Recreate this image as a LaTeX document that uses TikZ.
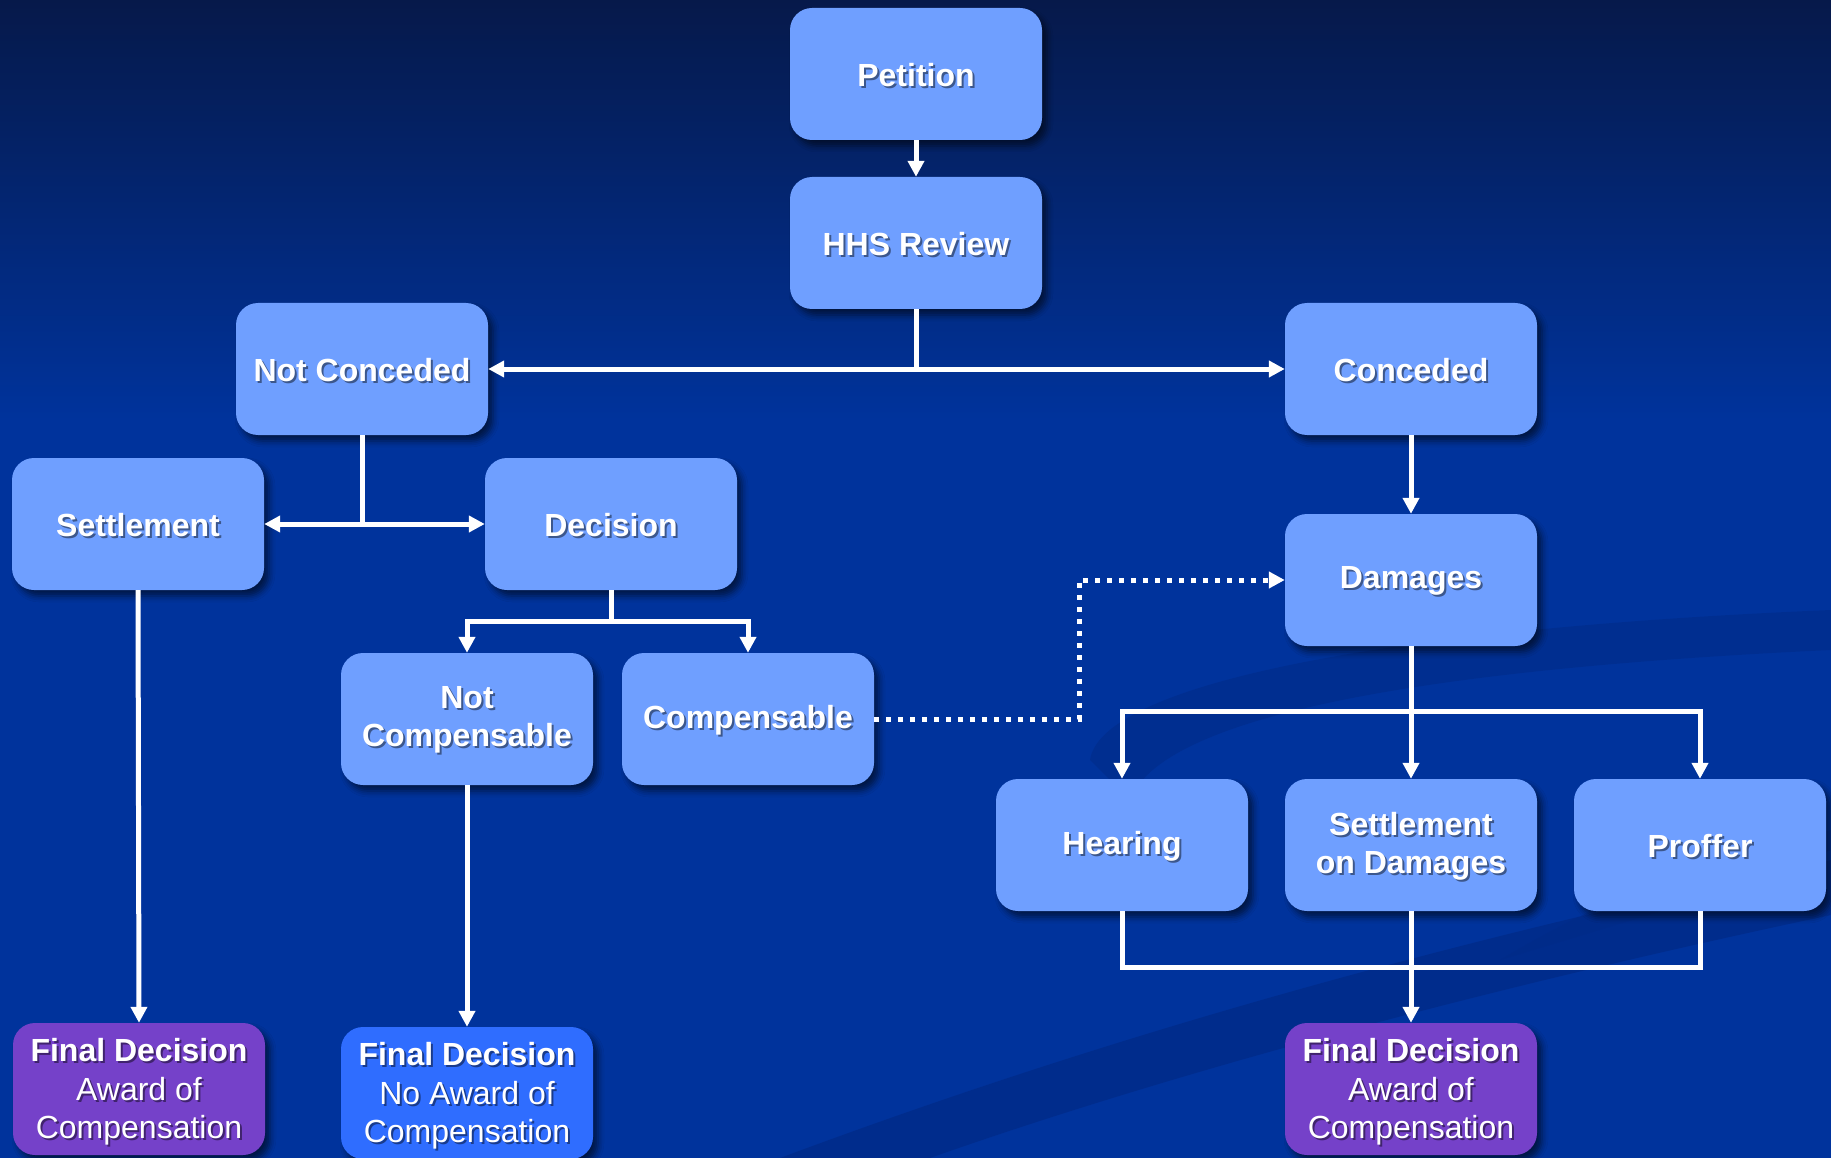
\documentclass[tikz,border=0pt]{standalone}
\usepackage{fontspec}
\setmainfont{Liberation Sans}
\usetikzlibrary{arrows.meta,shadows.blur}
\definecolor{boxblue}{HTML}{6F9FFF}
\definecolor{purp}{HTML}{7541C9}
\definecolor{fblue}{HTML}{2F6DFF}
\definecolor{bgtop}{HTML}{06194A}
\definecolor{bgmid}{HTML}{00339C}
\definecolor{swoosh}{HTML}{002A86}
\newcommand\mybox[6]{%
  \node[boxbase,#4] (#1) at (#2,#3) {};
  \node[txtsh,#5] (#1-sh) at ([xshift=2pt,yshift=-2pt]#1.center) {#6};
  \node[txt,#5] (#1-tx) at (#1.center) {#6};
}
\begin{document}
\begin{tikzpicture}[x=1pt,y=-1pt,
  boxbase/.style={rounded corners=22pt, minimum width=252pt, minimum height=132pt,
    inner sep=0pt, fill=boxblue,
    blur shadow={shadow xshift=5pt, shadow yshift=-6pt, shadow opacity=55, shadow blur radius=6pt}},
  purpbox/.style={fill=purp},
  bluebox/.style={fill=fblue},
  lbl/.style={font=\bfseries\fontsize{32}{38}\selectfont, yshift=-1pt},
  fin/.style={font=\fontsize{32}{38.5}\selectfont, yshift=-3pt},
  txt/.style={text=white, align=center, inner sep=0pt},
  txtsh/.style={text=black, text opacity=0.45, align=center, inner sep=0pt},
  ln/.style={draw=white, line width=5pt},
  arr/.style={ln, -{Triangle[width=16pt,length=16pt]}},
  dotln/.style={arr, dash pattern=on 5pt off 7pt}]
% background
\useasboundingbox (0,0) rectangle (1831,1158);
\fill[bgmid] (0,0) rectangle (1831,1158);
\shade[top color=bgtop, bottom color=bgmid] (0,0) rectangle (1831,420);
\fill[swoosh, opacity=0.7] (780,1158) .. controls (1150,1020) and (1500,930) .. (1831,860)
  -- (1831,915) .. controls (1500,985) and (1180,1070) .. (930,1158) -- cycle;
\fill[swoosh, opacity=0.5] (1090,760) .. controls (1100,690) and (1350,630) .. (1831,610)
  -- (1831,650) .. controls (1400,670) and (1160,720) .. (1130,800) -- cycle;
\fill[swoosh, opacity=0.4] (1500,960) .. controls (1700,900) and (1760,880) .. (1831,850)
  -- (1831,830) .. controls (1700,860) and (1600,900) .. (1500,960) -- cycle;

% boxes
\mybox{pet}{916}{74}{}{lbl}{Petition}
\mybox{hhs}{916}{243}{}{lbl}{HHS Review}
\mybox{notc}{362}{369}{}{lbl}{Not Conceded}
\mybox{conc}{1411}{369}{}{lbl}{Conceded}
\mybox{settle}{138}{524}{}{lbl}{Settlement}
\mybox{dec}{611}{524}{}{lbl}{Decision}
\mybox{dam}{1411}{580}{}{lbl}{Damages}
\mybox{notcomp}{467}{719}{}{lbl}{Not\\Compensable}
\mybox{comp}{748}{719}{}{lbl}{Compensable}
\mybox{hear}{1122}{845}{}{lbl}{Hearing}
\mybox{sod}{1411}{845}{}{lbl}{Settlement\\on Damages}
\mybox{prof}{1700}{845}{}{lbl}{Proffer}
\mybox{fdl}{139}{1089}{purpbox}{fin}{\textbf{Final Decision}\\Award of\\Compensation}
\mybox{fdm}{467}{1093}{bluebox}{fin}{\textbf{Final Decision}\\No Award of\\Compensation}
\mybox{fdr}{1411}{1089}{purpbox}{fin}{\textbf{Final Decision}\\Award of\\Compensation}

% junction coordinates
\coordinate (dj) at (611,621);
\coordinate (mj) at (1411,711);
\coordinate (bj) at (1411,967);
\coordinate (dc) at (1079,719);

% connectors
\draw[arr] (pet.south) -- (hhs.north);
\draw[arr] (hhs.south) |- (notc.east);
\draw[arr] (hhs.south) |- (conc.west);
\draw[arr] (notc.south) |- (settle.east);
\draw[arr] (notc.south) |- (dec.west);
\draw[arr] (conc.south) -- (dam.north);
\draw[ln] (dec.south) -- (dj);
\draw[arr] (dj) -| (notcomp.north);
\draw[arr] (dj) -| (comp.north);
\draw[dotln] (comp.east) -- (dc) |- (dam.west);
\draw[ln] (dam.south) -- (mj);
\draw[arr] (mj) -| (hear.north);
\draw[arr] (mj) -- (sod.north);
\draw[arr] (mj) -| (prof.north);
\draw[ln] (hear.south) |- (bj) -| (prof.south);
\draw[arr] (sod.south) -- (fdr.north);
\draw[arr] (settle.south) -- (fdl.north);
\draw[arr] (notcomp.south) -- (fdm.north);
\end{tikzpicture}
\end{document}
